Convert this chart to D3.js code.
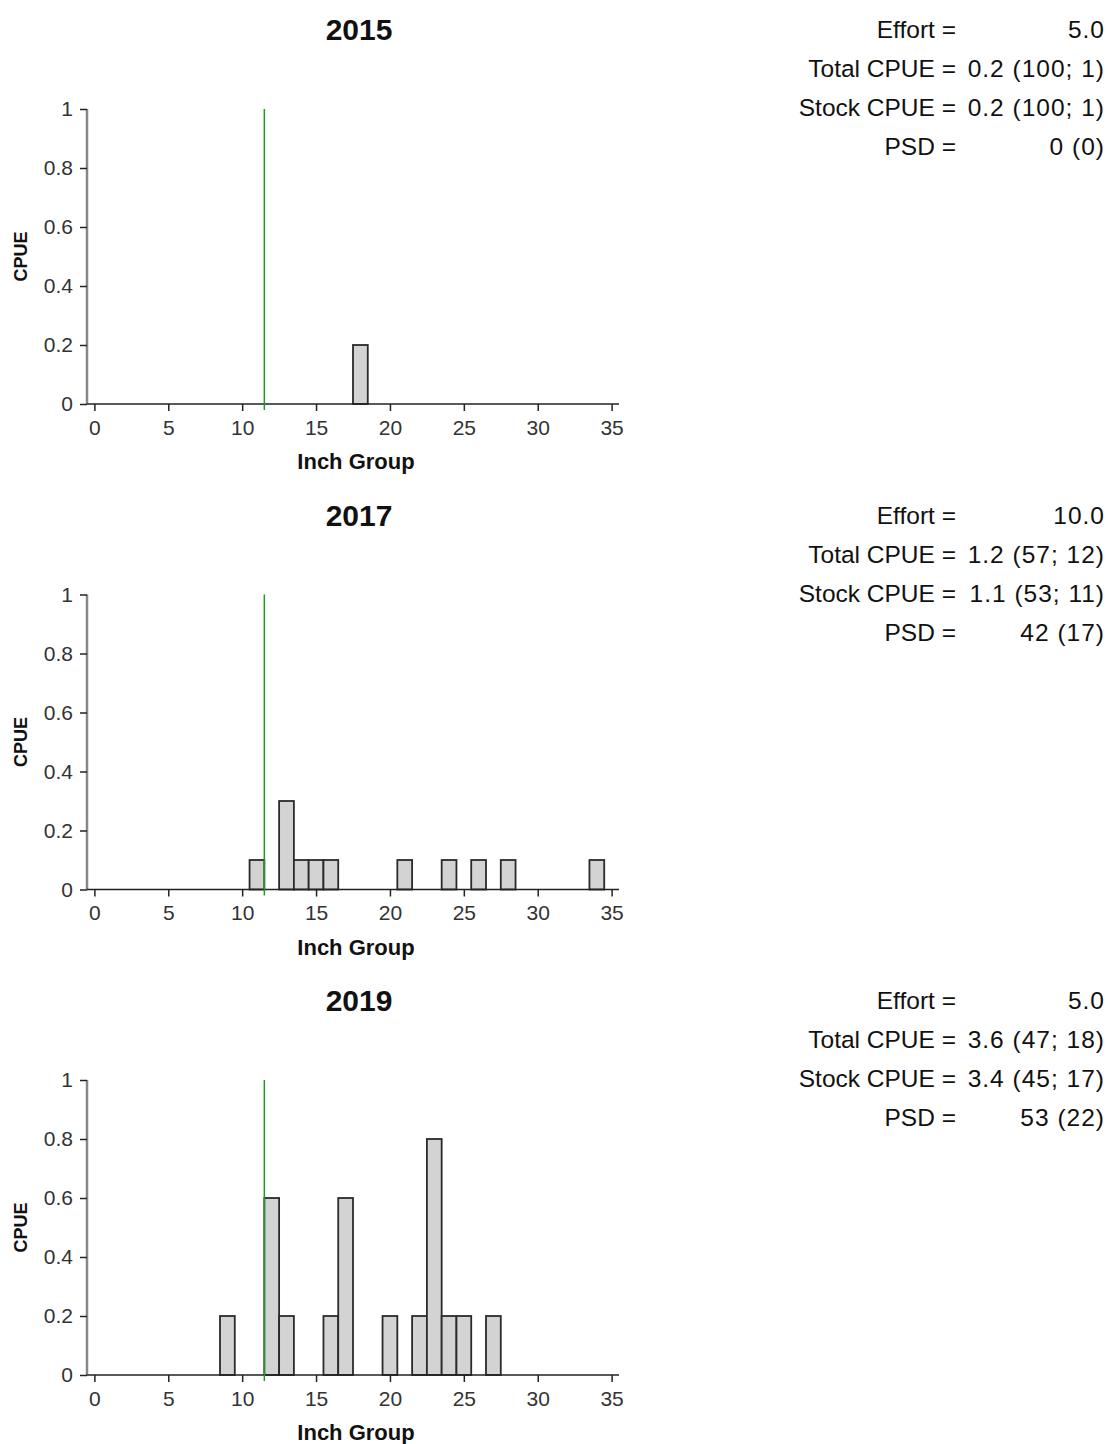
<!DOCTYPE html>
<html>
<head>
<meta charset="utf-8">
<script src="https://cdn.jsdelivr.net/npm/d3@7"></script>
<style>
  html, body { margin: 0; padding: 0; background: #fff; }
  svg { display: block; font-family: "Liberation Sans", Arial, sans-serif; }
  .tick text { fill: #333; font-size: 21px; font-family: "Liberation Sans", Arial, sans-serif; }
</style>
</head>
<body>
<svg id="chart" width="1108" height="1444"></svg>
<script>
/* ── DATA ───────────────────────────────────────────────────────────────────── */
const years = [2015, 2017, 2019];

const inch2015 = [18];
const cpue2015 = [0.2];

const inch2017 = [11, 13, 14, 15, 16, 21, 24, 26, 28, 34];
const cpue2017 = [0.1, 0.3, 0.1, 0.1, 0.1, 0.1, 0.1, 0.1, 0.1, 0.1];

const inch2019 = [9, 12, 13, 16, 17, 20, 22, 23, 24, 25, 27];
const cpue2019 = [0.2, 0.6, 0.2, 0.2, 0.6, 0.2, 0.2, 0.8, 0.2, 0.2, 0.2];

const stockLength = 11.5;

const statLabels = ['Effort =', 'Total CPUE =', 'Stock CPUE =', 'PSD ='];
const effort     = ['5.0', '10.0', '5.0'];
const totalCpue  = ['0.2 (100; 1)', '1.2 (57; 12)', '3.6 (47; 18)'];
const stockCpue  = ['0.2 (100; 1)', '1.1 (53; 11)', '3.4 (45; 17)'];
const psd        = ['0 (0)', '42 (17)', '53 (22)'];

const xTicks = [0, 5, 10, 15, 20, 25, 30, 35];
const yTicks = [0, 0.2, 0.4, 0.6, 0.8, 1];

const barsByYear = [
  inch2015.map((g, i) => ({ g, v: cpue2015[i] })),
  inch2017.map((g, i) => ({ g, v: cpue2017[i] })),
  inch2019.map((g, i) => ({ g, v: cpue2019[i] }))
];
const statsByYear = years.map((_, i) => [effort[i], totalCpue[i], stockCpue[i], psd[i]]);

/* ── LAYOUT ─────────────────────────────────────────────────────────────────── */
const svg = d3.select('#chart');
const panelStep = 485.5;
const x = d3.scaleLinear().domain([-0.5, 35.5]).range([87, 619]);

years.forEach((year, i) => {
  const top = i * panelStep;
  const g = svg.append('g').attr('transform', `translate(0,${top})`);
  const y = d3.scaleLinear().domain([0, 1]).range([404, 109]);

  // title
  g.append('text')
    .attr('x', 359).attr('y', 40)
    .attr('text-anchor', 'middle')
    .attr('font-size', 30).attr('font-weight', 'bold')
    .attr('fill', '#111')
    .text(year);

  // bars
  g.selectAll('rect.bar')
    .data(barsByYear[i])
    .join('rect')
    .attr('class', 'bar')
    .attr('x', d => x(d.g - 0.5))
    .attr('width', d => x(d.g + 0.5) - x(d.g - 0.5))
    .attr('y', d => y(d.v))
    .attr('height', d => y(0) - y(d.v))
    .attr('fill', '#d3d3d3')
    .attr('stroke', '#2a2a2a')
    .attr('stroke-width', 1.8);

  // y axis
  const yAxis = g.append('g')
    .attr('transform', `translate(${x(-0.5)},0)`)
    .call(d3.axisLeft(y).tickValues(yTicks).tickFormat(d3.format('~g')).tickSize(7).tickPadding(7));
  yAxis.select('.domain').attr('stroke', '#888').attr('stroke-width', 2.5)
    .attr('d', `M0,${y(1)}V${y(0)}`);
  yAxis.selectAll('.tick line').attr('stroke', '#222').attr('stroke-width', 1.5);

  // x axis
  const xAxis = g.append('g')
    .attr('transform', `translate(0,${y(0)})`)
    .call(d3.axisBottom(x).tickValues(xTicks).tickSize(7).tickPadding(9));
  xAxis.select('.domain').attr('stroke', '#222').attr('stroke-width', 1.5)
    .attr('d', `M${x(-0.5)},0H${x(35.5)}`);
  xAxis.selectAll('.tick line').attr('stroke', '#222').attr('stroke-width', 1.5);

  // stock length line
  g.append('line')
    .attr('x1', x(stockLength)).attr('x2', x(stockLength))
    .attr('y1', y(1)).attr('y2', y(0) + 6)
    .attr('stroke', '#1f9a1f').attr('stroke-width', 1.5);

  // axis titles
  g.append('text')
    .attr('x', 356).attr('y', 469)
    .attr('text-anchor', 'middle')
    .attr('font-size', 22).attr('font-weight', 'bold').attr('fill', '#111')
    .text('Inch Group');
  g.append('text')
    .attr('transform', `translate(27,${(y(0) + y(1)) / 2}) rotate(-90)`)
    .attr('text-anchor', 'middle')
    .attr('font-size', 18).attr('font-weight', 'bold').attr('fill', '#111')
    .text('CPUE');

  // stats block
  statLabels.forEach((lab, j) => {
    const by = 38 + j * 39;
    g.append('text')
      .attr('x', 956).attr('y', by)
      .attr('text-anchor', 'end')
      .attr('font-size', 24.5).attr('fill', '#111')
      .text(lab);
    g.append('text')
      .attr('x', 1105).attr('y', by)
      .attr('text-anchor', 'end')
      .attr('font-size', 24.5).attr('letter-spacing', 1).attr('fill', '#111')
      .text(statsByYear[i][j]);
  });
});
</script>
</body>
</html>
